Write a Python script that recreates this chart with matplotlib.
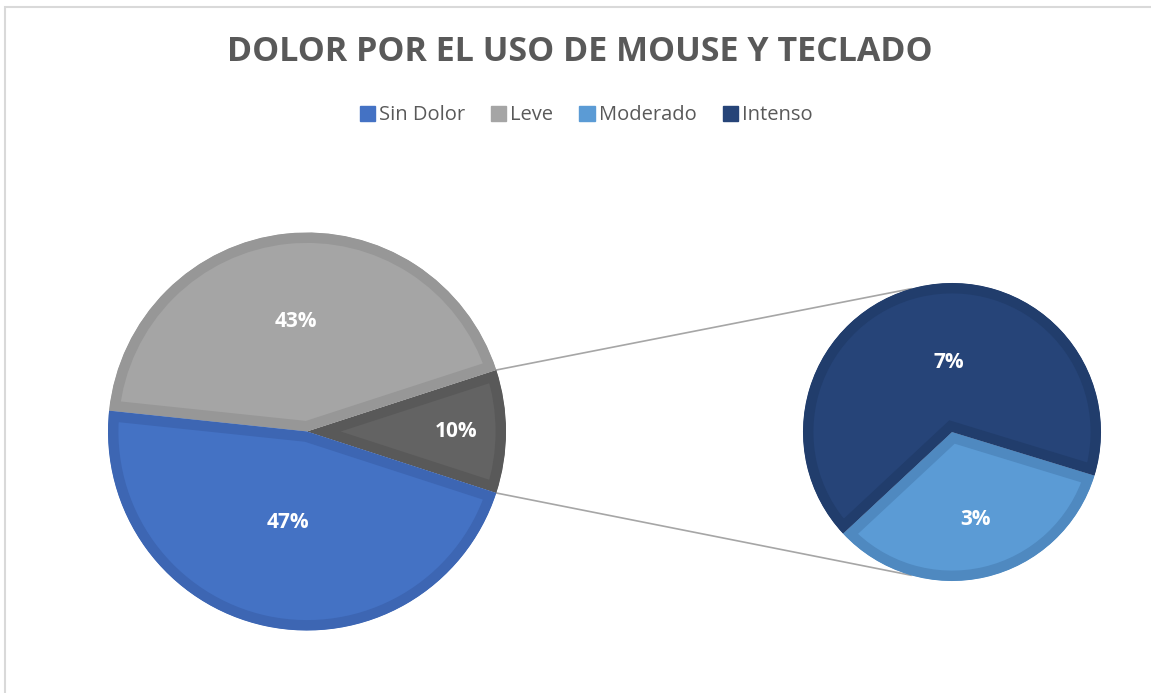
import matplotlib.pyplot as plt
from matplotlib.patches import Rectangle, Patch, Wedge
import numpy as np

# data (respondent counts, shown as % of 30)
main_labels = ['Sin Dolor', 'Leve', 'Otros']
main_counts = [14, 13, 3]
sub_labels = ['Moderado', 'Intenso']
sub_counts = [1, 2]
total = sum(main_counts)

legend_labels = ['Sin Dolor', 'Leve', 'Moderado', 'Intenso']
legend_colors = ['#4472C4', '#A5A5A5', '#5B9BD5', '#264478']

main_colors = ['#4472C4', '#A5A5A5', '#636363']
main_edges = ['#3D66B3', '#979797', '#595959']
sub_colors = ['#5B9BD5', '#264478']
sub_edges = ['#4F89C0', '#213D6C']

W, H = 1151, 693
fig = plt.figure(figsize=(W / 100, H / 100), dpi=100)
ax = fig.add_axes([0, 0, 1, 1])
ax.set_xlim(0, W)
ax.set_ylim(0, H)
ax.set_aspect('equal')

# chart frame
ax.add_patch(Rectangle((5.5, -10), W + 20, H - 6.5 + 10, fill=False,
                       edgecolor='#D9D9D9', linewidth=1.5))


def fmt(v):
    return '%d%%' % round(v / total * 100)


def inner_border(wedges, edges):
    # Excel-style border drawn inside each slice
    for w, ec in zip(wedges, edges):
        w.set_edgecolor(ec)
        w.set_linewidth(15)
        clip = Wedge(w.center, w.r, w.theta1, w.theta2, transform=ax.transData)
        w.set_clip_on(True)
        w.set_clip_path(clip)


# main pie
c1 = (307, H - 431.5)
r1 = 199
order = [2, 1, 0]  # Otros, Leve, Sin Dolor counter-clockwise
wedges1, _ = ax.pie([main_counts[i] for i in order], colors=[main_colors[i] for i in order],
                    startangle=-18, center=c1, radius=r1, frame=True)
inner_border(wedges1, [main_edges[i] for i in order])

lab_r1 = {0: 0.47, 1: 0.555, 2: 0.75}
for w, i in zip(wedges1, order):
    ang = np.deg2rad((w.theta1 + w.theta2) / 2)
    ax.text(c1[0] + lab_r1[i] * r1 * np.cos(ang), c1[1] + lab_r1[i] * r1 * np.sin(ang),
            fmt(main_counts[i]), color='white', fontsize=15, fontweight='bold',
            family='Open Sans', ha='center', va='center', zorder=5)

# secondary pie
c2 = (952, H - 432)
r2 = 149
wedges2, _ = ax.pie(sub_counts, colors=sub_colors, startangle=-137,
                    center=c2, radius=r2, frame=True)
inner_border(wedges2, sub_edges)

lab_r2 = [0.61, 0.47]
lab_shift = [2, -10]
for w, v, rr, sh in zip(wedges2, sub_counts, lab_r2, lab_shift):
    ang = np.deg2rad((w.theta1 + w.theta2) / 2 + sh)
    ax.text(c2[0] + rr * r2 * np.cos(ang), c2[1] + rr * r2 * np.sin(ang),
            fmt(v), color='white', fontsize=15, fontweight='bold',
            family='Open Sans', ha='center', va='center', zorder=5)

# connector lines from the "Otros" slice to the secondary pie
other = wedges1[0]
for a1, a2 in [(other.theta2, 106), (other.theta1, -106)]:
    p1 = (c1[0] + r1 * np.cos(np.deg2rad(a1)), c1[1] + r1 * np.sin(np.deg2rad(a1)))
    p2 = (c2[0] + r2 * np.cos(np.deg2rad(a2)), c2[1] + r2 * np.sin(np.deg2rad(a2)))
    ax.plot([p1[0], p2[0]], [p1[1], p2[1]], color='#A6A6A6', linewidth=1.2, zorder=0.5)

ax.set_xlim(0, W)
ax.set_ylim(0, H)
ax.set_aspect('equal')
ax.axis('off')

fig.text(580 / W, 1 - 52 / H, 'DOLOR POR EL USO DE MOUSE Y TECLADO', ha='center', va='center',
         fontsize=24.5, fontweight='bold', color='#595959', family='Open Sans')

handles = [Patch(facecolor=c, edgecolor=c) for c in legend_colors]
fig.legend(handles, legend_labels, loc='center', bbox_to_anchor=(586 / W, 1 - 115.5 / H),
           ncol=4, frameon=False, handlelength=0.75, handleheight=0.75,
           handletextpad=0.2, columnspacing=1.3, labelcolor='#595959',
           prop={'family': 'Open Sans', 'size': 14.5})

fig.savefig('out.png', dpi=100)
